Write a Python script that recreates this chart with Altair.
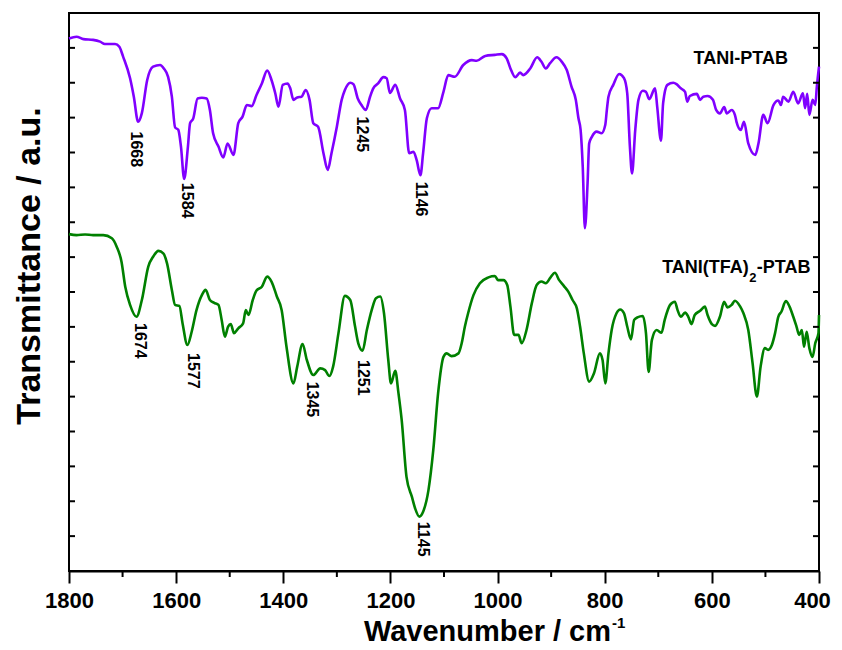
import altair as alt
import pandas as pd

# ---- data (wavenumber in cm-1, transmittance in a.u.) ----
purple_wn = [1800,1786,1773,1755,1742,1733,1714,1706,1699,1686,
             1679,1671,1664,1654,1643,1630,1623,1615,1608,1602,
             1596,1591,1585,1578,1574,1568,1560,1552,1543,1537,
             1531,1521,1512,1504,1493,1484,1476,1468,1459,1450,
             1440,1430,1422,1415,1409,1401,1392,1387,1381,1374,
             1366,1358,1351,1344,1335,1325,1317,1310,1300,1291,
             1285,1275,1269,1261,1254,1246,1238,1232,1223,1213,
             1207,1201,1191,1182,1173,1165,1157,1151,1144,1139,
             1132,1123,1111,1101,1092,1080,1064,1048,1039,1023,
             1005,992,983,976,967,958,952,939,926,918,
             910,902,890,880,871,862,854,849,845,841,
             837,832,829,824,815,806,799,796,793,784,
             773,764,758,753,749,743,737,729,723,717,
             706,702,695,691,683,672,666,658,650,646,
             641,628,622,616,608,598,592,585,577,572,
             563,557,554,546,540,532,519,513,504,496,
             485,476,471,467,457,448,439,430,426,422,
             418,412,407,404,400]
purple_t = [15.27,15.32,15.25,15.23,15.18,15.11,15.11,15.03,14.75,14.13,
            13.60,12.88,13.13,14.08,14.46,14.51,14.41,14.17,13.60,12.72,
            12.65,12.17,11.24,12.17,12.84,12.98,13.55,13.57,13.55,13.22,
            12.55,12.17,11.86,12.26,11.93,12.84,13.03,13.36,13.33,13.65,
            13.98,14.35,14.08,13.70,13.31,13.94,13.98,13.84,13.51,13.58,
            13.60,13.79,13.51,12.84,12.74,11.98,11.50,11.98,12.74,13.51,
            13.79,14.00,13.96,13.55,13.36,13.22,13.60,13.84,13.98,14.16,
            14.13,13.71,13.94,13.55,13.22,11.98,12.02,11.78,11.35,11.98,
            12.98,13.27,13.27,13.74,14.22,14.17,14.51,14.65,14.63,14.77,
            14.80,14.82,14.70,14.41,14.16,14.29,14.22,14.41,14.73,14.60,
            14.41,14.56,14.73,14.60,14.37,13.89,13.51,12.98,12.65,11.59,
            9.83,11.12,12.26,12.45,12.60,12.55,12.79,13.22,13.60,13.94,
            14.25,14.13,13.70,12.17,11.40,12.65,13.51,13.77,13.74,13.53,
            13.84,13.31,12.34,13.41,13.94,14.00,13.96,13.84,13.74,13.46,
            13.62,13.68,13.51,13.60,13.62,13.51,13.22,13.12,13.30,13.12,
            13.22,13.08,12.88,12.65,12.88,12.26,11.93,12.26,13.08,12.84,
            13.36,13.49,13.36,13.60,13.46,13.74,13.41,13.70,13.27,13.68,
            13.08,13.51,13.36,13.89,14.46]

green_wn = [1800,1786,1770,1755,1736,1720,1711,1702,1695,1686,
            1674,1664,1652,1643,1633,1624,1617,1608,1602,1594,
            1588,1579,1571,1562,1552,1545,1537,1529,1521,1515,
            1509,1503,1498,1492,1484,1475,1470,1465,1457,1450,
            1440,1430,1422,1412,1403,1394,1381,1374,1364,1356,
            1344,1331,1322,1314,1307,1297,1285,1275,1266,1260,
            1252,1244,1235,1227,1219,1212,1204,1199,1191,1185,
            1179,1170,1160,1154,1146,1139,1129,1120,1111,1101,
            1095,1086,1073,1067,1061,1055,1045,1033,1017,1005,
            999,989,982,976,969,961,955,946,936,927,
            918,910,901,893,885,876,868,860,852,846,
            839,829,820,809,804,799,793,787,778,771,
            764,758,751,745,739,729,723,718,712,703,
            694,688,678,669,664,658,650,644,638,632,
            622,613,608,600,594,585,577,571,563,557,
            547,541,532,524,516,509,501,495,488,482,
            476,470,462,455,448,442,437,432,428,423,
            418,412,407,401,400]
green_t = [9.66,9.63,9.65,9.63,9.63,9.54,9.30,8.87,8.15,7.63,
           7.29,7.77,8.73,9.01,9.18,9.11,8.82,8.06,7.63,7.60,
           7.10,6.48,6.86,7.48,7.91,8.06,7.77,7.69,7.63,7.20,
           6.72,7.01,7.08,6.82,6.96,7.10,7.48,7.34,7.77,8.04,
           8.15,8.44,8.30,7.87,7.48,6.43,5.38,5.86,6.51,6.05,
           5.62,5.81,5.76,5.59,5.86,6.82,7.89,7.77,7.01,6.53,
           6.32,6.91,7.48,7.82,7.87,7.39,6.05,5.38,5.74,5.10,
           4.33,2.70,2.13,1.80,1.56,1.70,2.32,3.47,5.10,6.14,
           6.24,6.16,6.24,6.53,7.01,7.39,7.91,8.25,8.42,8.46,
           8.34,8.34,8.20,7.58,6.77,6.77,6.53,6.91,7.68,8.20,
           8.30,8.25,8.42,8.55,8.34,8.17,8.01,7.77,7.53,7.01,
           6.24,5.43,5.67,6.24,6.05,5.38,6.24,6.91,7.39,7.50,
           7.39,7.01,6.64,7.20,7.27,7.31,6.82,5.71,6.62,6.91,
           6.83,7.20,7.63,7.72,7.48,7.29,7.41,7.29,7.08,7.34,
           7.46,7.58,7.34,7.08,7.03,7.29,7.72,7.56,7.63,7.75,
           7.58,7.39,6.91,5.96,5.00,5.86,6.39,6.34,6.48,6.82,
           7.29,7.44,7.74,7.58,7.29,7.01,6.77,6.91,6.43,6.86,
           6.39,6.14,6.53,6.82,7.34]

x_ticks = [1800, 1600, 1400, 1200, 1000, 800, 600, 400]
x_minor = [1700, 1500, 1300, 1100, 900, 700, 500]
y_ticks = list(range(1, 16))

peak_text = ["1668", "1584", "1245", "1146", "1674", "1577", "1345", "1251", "1145"]
peak_x = [1675, 1580, 1254, 1143, 1667, 1568, 1346, 1252, 1139]
peak_y = [12.60, 11.13, 13.03, 11.16, 7.11, 6.25, 5.43, 6.05, 1.41]

W, H = 750, 558
SANS = "Liberation Sans, Arial, sans-serif"

xscale = alt.Scale(domain=[400, 1800], reverse=True, nice=False, zero=False)
yscale = alt.Scale(domain=[0, 16], nice=False, zero=False)
xaxis = alt.Axis(values=x_ticks, format="d", title=None, grid=False,
                 tickSize=12, tickWidth=2, tickColor="black",
                 domainColor="black", domainWidth=2,
                 labelFont=SANS, labelFontSize=22, labelFontWeight="bold",
                 labelColor="black", labelPadding=7, labelFlush=False,
                 labelOverlap=False,
                 labelOffset={"condition": {"test": "datum.value == 400", "value": -7}, "value": 0})


def X(field):
    return alt.X(field, type="quantitative", scale=xscale, axis=xaxis)


def Y(field):
    return alt.Y(field, type="quantitative", scale=yscale, axis=None)


df_p = pd.DataFrame({"wn": purple_wn, "t": purple_t})
df_g = pd.DataFrame({"wn": green_wn, "t": green_t})

purple = alt.Chart(df_p).mark_line(color="#8000ff", strokeWidth=2.6, interpolate="monotone").encode(
    x=X("wn"), y=Y("t"))
green = alt.Chart(df_g).mark_line(color="#008000", strokeWidth=2.6, interpolate="monotone").encode(
    x=X("wn"), y=Y("t"))

minor = alt.Chart(pd.DataFrame({"wn": x_minor})).mark_rule(color="black", strokeWidth=2).encode(
    x=X("wn"), y=alt.value(H), y2=alt.value(H + 6))

yt = pd.DataFrame({"t": y_ticks})
left_ticks = alt.Chart(yt).mark_rule(color="black", strokeWidth=2).encode(
    x=alt.value(0), x2=alt.value(6), y=Y("t"))
right_ticks = alt.Chart(yt).mark_rule(color="black", strokeWidth=2).encode(
    x=alt.value(W - 6), x2=alt.value(W), y=Y("t"))

peaks = alt.Chart(pd.DataFrame({"label": peak_text, "wn": peak_x, "t": peak_y})).mark_text(
    angle=90, align="left", baseline="middle", font=SANS, fontSize=16, fontWeight="bold",
    color="black").encode(x=X("wn"), y=Y("t"), text="label:N")

lab1 = alt.Chart(pd.DataFrame({"label": ["TANI-PTAB", "TANI(TFA)"], "wn": [458, 531], "t": [14.68, 8.69]})).mark_text(
    align="right", baseline="middle", font=SANS, fontSize=18, fontWeight="bold", color="black").encode(
    x=X("wn"), y=Y("t"), text="label:N")
lab2 = alt.Chart(pd.DataFrame({"label": ["-PTAB"], "wn": [516], "t": [8.69]})).mark_text(
    align="left", baseline="middle", font=SANS, fontSize=18, fontWeight="bold", color="black").encode(
    x=X("wn"), y=Y("t"), text="label:N")
lab_sub = alt.Chart(pd.DataFrame({"label": ["2"], "wn": [530], "t": [8.40]})).mark_text(
    align="left", baseline="middle", font=SANS, fontSize=13, fontWeight="bold", color="black").encode(
    x=X("wn"), y=Y("t"), text="label:N")

xtitle = alt.Chart(pd.DataFrame({"label": ["Wavenumber / cm"]})).mark_text(
    align="right", baseline="alphabetic", font=SANS, fontSize=29, fontWeight="bold", color="black").encode(
    x=alt.value(542), y=alt.value(628), text="label:N")
xsup = alt.Chart(pd.DataFrame({"label": ["-1"]})).mark_text(
    align="left", baseline="alphabetic", font=SANS, fontSize=15, fontWeight="bold", color="black").encode(
    x=alt.value(543), y=alt.value(615), text="label:N")
ytitle = alt.Chart(pd.DataFrame({"label": ["Transmittance / a.u."]})).mark_text(
    angle=270, align="center", baseline="alphabetic", font=SANS, fontSize=34, fontWeight="bold", color="black").encode(
    x=alt.value(-29), y=alt.value(253), text="label:N")

chart = alt.layer(
    purple, green, minor, left_ticks, right_ticks, peaks, lab1, lab2, lab_sub, xtitle, xsup, ytitle
).properties(
    width=W, height=H,
    autosize=alt.AutoSizeParams(type="none"),
    padding={"left": 61, "top": 5, "right": 15, "bottom": 76},
).configure_view(stroke="black", strokeWidth=2)

chart.save("out.html", embed_options={"renderer": "svg", "actions": False})
